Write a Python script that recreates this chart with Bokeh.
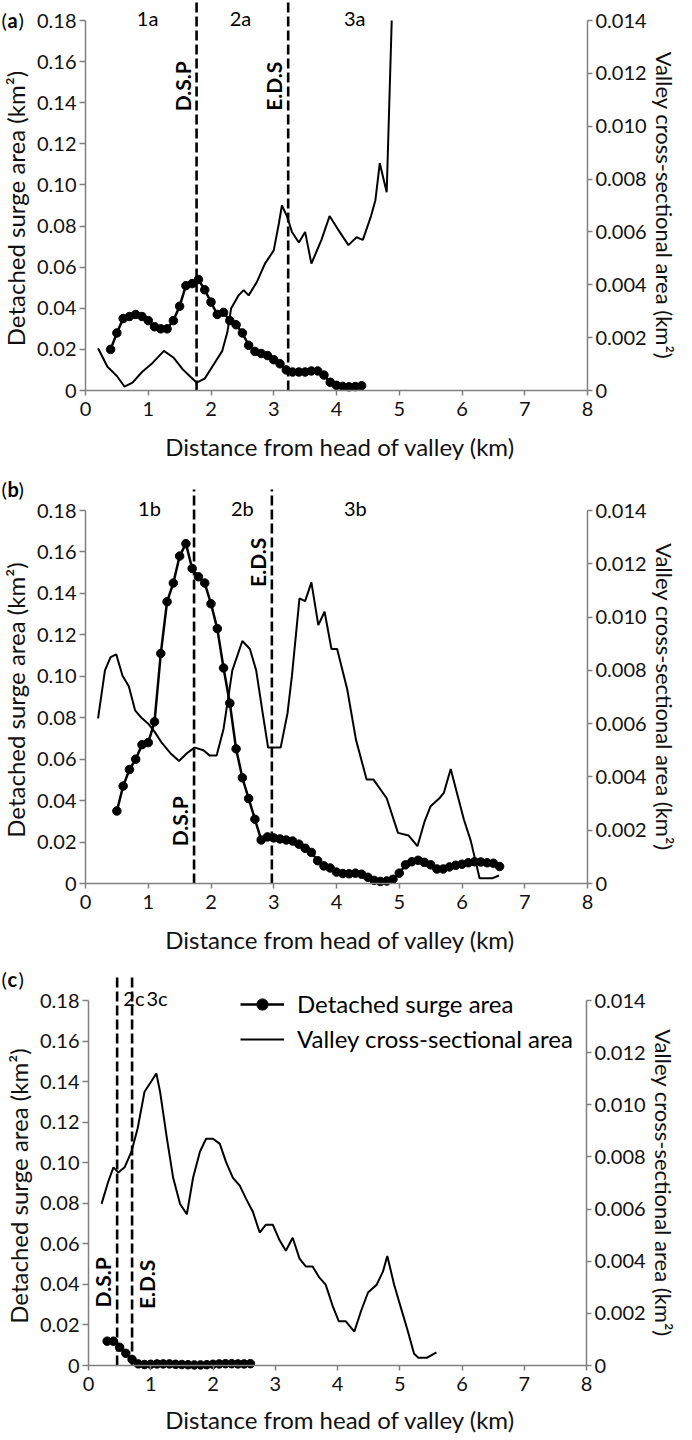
import math
from bokeh.plotting import figure
from bokeh.layouts import column
from bokeh.models import (Range1d, LinearAxis, FixedTicker, Label, Legend, LegendItem,
                          PrintfTickFormatter, Title)
from bokeh.core.properties import value
from bokeh.embed import file_html
from bokeh.resources import INLINE

FONT = "Lato"

# ---------------- data ----------------
x_ticks = [0, 1, 2, 3, 4, 5, 6, 7, 8]
left_ticks = [0, 0.02, 0.04, 0.06, 0.08, 0.10, 0.12, 0.14, 0.16, 0.18]
right_ticks = [0, 0.002, 0.004, 0.006, 0.008, 0.010, 0.012, 0.014]

# Panel (a)
surge_a_x = [0.4, 0.5, 0.6, 0.7, 0.8, 0.9, 1.0, 1.1, 1.2, 1.3, 1.4, 1.5, 1.6, 1.7, 1.8, 1.9, 2.0,
             2.1, 2.2, 2.3, 2.4, 2.5, 2.6, 2.7, 2.8, 2.9, 3.0, 3.1, 3.2, 3.3, 3.4, 3.5, 3.6, 3.7,
             3.8, 3.9, 4.0, 4.1, 4.2, 4.3, 4.4]
surge_a_y = [0.020, 0.028, 0.035, 0.036, 0.037, 0.036, 0.034, 0.031, 0.030, 0.030, 0.034, 0.041,
             0.051, 0.052, 0.054, 0.049, 0.043, 0.037, 0.038, 0.034, 0.032, 0.028, 0.022, 0.019,
             0.018, 0.017, 0.015, 0.013, 0.010, 0.009, 0.009, 0.009, 0.0095, 0.0095, 0.0075,
             0.004, 0.0025, 0.002, 0.0018, 0.0019, 0.0023]
valley_a_x = [0.2, 0.35, 0.5, 0.62, 0.75, 0.9, 1.05, 1.25, 1.4, 1.55, 1.68, 1.77, 1.9, 2.02, 2.18,
              2.26, 2.32, 2.44, 2.52, 2.6, 2.73, 2.86, 3.0, 3.08, 3.13, 3.21, 3.29, 3.4, 3.5, 3.6,
              3.76, 3.89, 4.05, 4.19, 4.32, 4.42, 4.55, 4.62, 4.69, 4.8, 4.88]
valley_a_y = [0.0016, 0.0009, 0.00055, 0.00015, 0.0003, 0.0007, 0.001, 0.0015, 0.00125, 0.0008,
              0.0005, 0.0003, 0.00045, 0.0009, 0.0015, 0.0022, 0.0031, 0.0036, 0.0038, 0.0036,
              0.0041, 0.0048, 0.0053, 0.0063, 0.0070, 0.0066, 0.0060, 0.0056, 0.0060, 0.0048,
              0.0057, 0.0066, 0.0060, 0.0055, 0.0058, 0.0057, 0.0066, 0.0072, 0.0086, 0.0075, 0.014]
dividers_a = [1.77, 3.23]
regions_a = ["1a", "2a", "3a"]
regions_a_x = [0.99, 2.47, 4.29]

# Panel (b)
surge_b_x = [0.5, 0.6, 0.7, 0.8, 0.9, 1.0, 1.1, 1.2, 1.3, 1.4, 1.5, 1.6, 1.7, 1.8, 1.9, 2.0, 2.1,
             2.2, 2.3, 2.4, 2.5, 2.6, 2.7, 2.8, 2.9, 3.0, 3.1, 3.2, 3.3, 3.4, 3.5, 3.6, 3.7, 3.8,
             3.9, 4.0, 4.1, 4.2, 4.3, 4.4, 4.5, 4.6, 4.7, 4.8, 4.9, 5.0, 5.1, 5.2, 5.3, 5.4, 5.5,
             5.6, 5.7, 5.8, 5.9, 6.0, 6.1, 6.2, 6.3, 6.4, 6.5, 6.6]
surge_b_y = [0.035, 0.047, 0.055, 0.060, 0.067, 0.068, 0.078, 0.111, 0.136, 0.145, 0.158, 0.164,
             0.152, 0.148, 0.145, 0.135, 0.123, 0.104, 0.087, 0.065, 0.051, 0.041, 0.031, 0.021,
             0.0225, 0.022, 0.0215, 0.021, 0.0205, 0.019, 0.017, 0.015, 0.011, 0.0085, 0.0075,
             0.0055, 0.0048, 0.0047, 0.005, 0.0045, 0.003, 0.0015, 0.001, 0.0012, 0.002, 0.005,
             0.009, 0.0105, 0.0112, 0.0102, 0.009, 0.007, 0.007, 0.008, 0.0088, 0.0093, 0.0100,
             0.0105, 0.0104, 0.0100, 0.0098, 0.0082]
valley_b_x = [0.2, 0.31, 0.4, 0.49, 0.59, 0.69, 0.79, 0.9, 1.0, 1.1, 1.21, 1.35, 1.49, 1.62, 1.74,
              1.88, 1.98, 2.09, 2.2, 2.34, 2.5, 2.62, 2.72, 2.83, 2.91, 2.98, 3.11, 3.22, 3.29,
              3.41, 3.5, 3.6, 3.71, 3.81, 3.92, 4.01, 4.17, 4.31, 4.48, 4.59, 4.8, 4.98, 5.15,
              5.29, 5.4, 5.5, 5.64, 5.71, 5.82, 5.93, 6.03, 6.14, 6.28, 6.38, 6.49, 6.59]
valley_b_y = [0.0062, 0.0080, 0.0085, 0.0086, 0.0078, 0.0074, 0.0065, 0.0062, 0.0060, 0.0057,
              0.0053, 0.0049, 0.0046, 0.0049, 0.0051, 0.0050, 0.0048, 0.0048, 0.0058, 0.0080,
              0.0091, 0.0088, 0.0080, 0.0063, 0.0051, 0.0051, 0.0051, 0.0064, 0.0078, 0.0107,
              0.0106, 0.0113, 0.0097, 0.0102, 0.0088, 0.0088, 0.0073, 0.0054, 0.0039, 0.0039,
              0.0032, 0.0019, 0.0018, 0.0014, 0.0023, 0.0029, 0.0032, 0.0034, 0.0043, 0.0033,
              0.0024, 0.0016, 0.0002, 0.0002, 0.0002, 0.0003]
dividers_b = [1.73, 2.97]
regions_b = ["1b", "2b", "3b"]
regions_b_x = [1.02, 2.5, 4.3]

# Panel (c)
surge_c_x = [0.3, 0.4, 0.5, 0.6, 0.7, 0.8, 0.9, 1.0, 1.1, 1.2, 1.3, 1.4, 1.5, 1.6, 1.7, 1.8, 1.9,
             2.0, 2.1, 2.2, 2.3, 2.4, 2.5, 2.6]
surge_c_y = [0.012, 0.012, 0.009, 0.006, 0.003, 0.0008, 0.0005, 0.0006, 0.0008, 0.0008, 0.0008,
             0.0006, 0.0005, 0.0004, 0.0003, 0.0003, 0.0004, 0.0006, 0.0008, 0.0009, 0.0009,
             0.0008, 0.0008, 0.0009]
valley_c_x = [0.21, 0.31, 0.4, 0.48, 0.58, 0.69, 0.79, 0.9, 1.01, 1.09, 1.15, 1.26, 1.36, 1.47,
              1.58, 1.68, 1.79, 1.89, 2.0, 2.11, 2.21, 2.32, 2.43, 2.53, 2.64, 2.75, 2.85, 2.96,
              3.07, 3.17, 3.28, 3.39, 3.49, 3.6, 3.7, 3.81, 3.92, 4.02, 4.13, 4.27, 4.38, 4.49,
              4.63, 4.73, 4.8, 4.91, 5.02, 5.12, 5.23, 5.3, 5.44, 5.59]
valley_c_y = [0.0062, 0.0070, 0.0076, 0.0074, 0.0076, 0.0082, 0.0091, 0.0105, 0.0109, 0.0112,
              0.0105, 0.0087, 0.0072, 0.0062, 0.0058, 0.0072, 0.0082, 0.0087, 0.0087, 0.0085,
              0.0078, 0.0072, 0.0069, 0.0064, 0.0059, 0.0051, 0.0054, 0.0054, 0.0048, 0.0044,
              0.0049, 0.0041, 0.0038, 0.0038, 0.0034, 0.0031, 0.0023, 0.0017, 0.0017, 0.0013,
              0.0021, 0.0028, 0.0031, 0.0036, 0.0042, 0.0031, 0.0022, 0.0014, 0.00045, 0.0003,
              0.0003, 0.0005]
dividers_c = [0.46, 0.70]
regions_c = ["2c", "3c"]
regions_c_x = [0.73, 1.1]

divider_names = ["D.S.P", "E.D.S"]
legend_labels = ["Detached surge area", "Valley cross-sectional area"]
x_title = "Distance from head of valley (km)"
left_title = "Detached surge area  (km²)"
right_title = "Valley cross-sectional area (km²)"

LEFT_MAX = 0.18
RIGHT_MAX = 0.014
FRAME_W = 680


def make_panel(tag, sx, sy, vx, vy, dividers, div_y, div_side, regions, regions_x,
               span_px, top_px, dash_top_px, bottom_px, x0_px, x8_px, border_bottom,
               legend=False):
    px_per_km = (x8_px - x0_px) / 8.0
    x_start = -x0_px / px_per_km
    x_end = 8 + (FRAME_W - x8_px) / px_per_km
    per_px = LEFT_MAX / span_px
    y_end = LEFT_MAX + top_px * per_px
    y_start = -bottom_px * per_px
    dash_top = LEFT_MAX + dash_top_px * per_px
    tag_y = LEFT_MAX + (1 if tag == "a" else 22) * per_px
    frame_h = span_px + top_px + bottom_px

    p = figure(frame_width=FRAME_W, frame_height=frame_h,
               x_range=Range1d(x_start, x_end), y_range=Range1d(y_start, y_end),
               output_backend="svg", toolbar_location=None,
               min_border_left=0, min_border_right=0,
               min_border_top=0, min_border_bottom=border_bottom,
               background_fill_color="white", border_fill_color="white")
    p.outline_line_color = None
    p.xgrid.visible = False
    p.ygrid.visible = False
    p.extra_y_ranges = {"valley": Range1d(y_start * RIGHT_MAX / LEFT_MAX,
                                          y_end * RIGHT_MAX / LEFT_MAX)}

    axis_color = "#808080"
    xa = p.xaxis[0]
    xa.ticker = FixedTicker(ticks=x_ticks)
    xa.bounds = (0, 8)
    xa.fixed_location = 0
    ya = p.yaxis[0]
    ya.ticker = FixedTicker(ticks=left_ticks)
    ya.bounds = (0, LEFT_MAX)
    ya.fixed_location = 0
    ya.formatter = PrintfTickFormatter(format="%.2f")
    ya.axis_label = left_title
    ra = LinearAxis(y_range_name="valley", ticker=FixedTicker(ticks=right_ticks),
                    bounds=(0, RIGHT_MAX), formatter=PrintfTickFormatter(format="%.3f"),
                    axis_label=right_title, fixed_location=8)
    p.add_layout(ra, "right")

    for ax in (xa, ya, ra):
        ax.axis_line_color = axis_color
        ax.axis_line_width = 1.5
        ax.major_tick_line_color = axis_color
        ax.major_tick_line_width = 1.5
        ax.minor_tick_line_color = None
        ax.major_tick_out = 6
        ax.major_tick_in = 0
        ax.major_label_text_font = FONT
        ax.major_label_text_font_size = "20px"
        ax.major_label_text_color = "#111111"
        ax.axis_label_text_font = FONT
        ax.axis_label_text_font_size = "24px"
        ax.axis_label_text_font_style = "normal"
        ax.axis_label_text_color = "#111111"
        ax.major_label_standoff = 3
        ax.axis_label_standoff = 4
    xa.major_tick_out = 5
    xa.major_label_standoff = 6
    ra.major_tick_out = 5
    ra.major_label_standoff = 3
    ra.axis_label_standoff = 1
    ra.axis_label_text_font_size = "22px"
    ya.major_label_overrides = {0: "0"}
    ra.major_label_overrides = {0: "0"}

    # x-axis title, centred on the 0-8 km span
    offset = x0_px + 4 * px_per_km - FRAME_W / 2.0
    p.add_layout(Title(text=x_title, align="center", offset=offset, standoff=2,
                       vertical_align="top", text_font=FONT, text_font_size="24px",
                       text_font_style="normal", text_color="#111111"), "below")

    # dashed dividers
    p.segment(x0=dividers, y0=[0] * len(dividers), x1=dividers, y1=[dash_top] * len(dividers),
              line_color="black", line_width=2.6, line_dash="10 4")

    # divider labels (rotated)
    for d, name, yy, side in zip(dividers, divider_names, div_y, div_side):
        p.text(x=[d], y=[yy], text=[name], angle=math.pi / 2,
               text_font=value(FONT), text_font_size="21px", text_font_style="bold",
               text_align="center", text_baseline="bottom" if side == "left" else "top",
               text_color="black", x_offset=-2 if side == "left" else 2)

    # region labels
    p.text(x=regions_x, y=[LEFT_MAX + 0.0012] * len(regions), text=regions,
           text_font=value(FONT), text_font_size="20px", text_align="center",
           text_baseline="middle", text_color="black")

    vl = p.line(vx, vy, y_range_name="valley", line_color="black", line_width=2)
    sl = p.line(sx, sy, line_color="black", line_width=2.5)
    sc = p.scatter(sx, sy, size=8.5, fill_color="black", line_color="black")

    # panel tag "(a)" with bold letter
    tag_x = x_start + 1.0 / px_per_km
    p.add_layout(Label(x=tag_x, y=tag_y, text="(", text_font=FONT, text_font_size="20px",
                       text_baseline="middle", text_color="black"))
    p.add_layout(Label(x=tag_x, y=tag_y, x_offset=6, text=tag, text_font=FONT,
                       text_font_size="20px", text_font_style="bold",
                       text_baseline="middle", text_color="black"))
    p.add_layout(Label(x=tag_x, y=tag_y, x_offset=17, text=")", text_font=FONT,
                       text_font_size="20px", text_baseline="middle", text_color="black"))

    if legend:
        lg = Legend(items=[LegendItem(label=legend_labels[0], renderers=[sl, sc]),
                           LegendItem(label=legend_labels[1], renderers=[vl])],
                    location=(240, frame_h - 91),
                    orientation="vertical", padding=0, margin=0, spacing=6,
                    glyph_width=44, glyph_height=28, label_height=28,
                    label_standoff=13, border_line_color=None,
                    background_fill_alpha=0.0,
                    label_text_font=FONT, label_text_font_size="24px",
                    label_text_color="black", label_text_baseline="middle")
        p.add_layout(lg)
    return p


pa = make_panel("a", surge_a_x, surge_a_y, valley_a_x, valley_a_y, dividers_a,
                [0.148, 0.148], ["left", "left"], regions_a, regions_a_x,
                span_px=370, top_px=20, dash_top_px=20, bottom_px=40,
                x0_px=85, x8_px=587, border_bottom=42)
pb = make_panel("b", surge_b_x, surge_b_y, valley_b_x, valley_b_y, dividers_b,
                [0.030, 0.155], ["left", "left"], regions_b, regions_b_x,
                span_px=373, top_px=38, dash_top_px=21, bottom_px=40,
                x0_px=85, x8_px=587, border_bottom=39)
pc = make_panel("c", surge_c_x, surge_c_y, valley_c_x, valley_c_y, dividers_c,
                [0.041, 0.040], ["left", "right"], regions_c, regions_c_x,
                span_px=365, top_px=38, dash_top_px=25, bottom_px=38,
                x0_px=88, x8_px=586, border_bottom=26, legend=True)

layout = column(pa, pb, pc, spacing=0)
open("out.html", "w").write(file_html(layout, INLINE))
